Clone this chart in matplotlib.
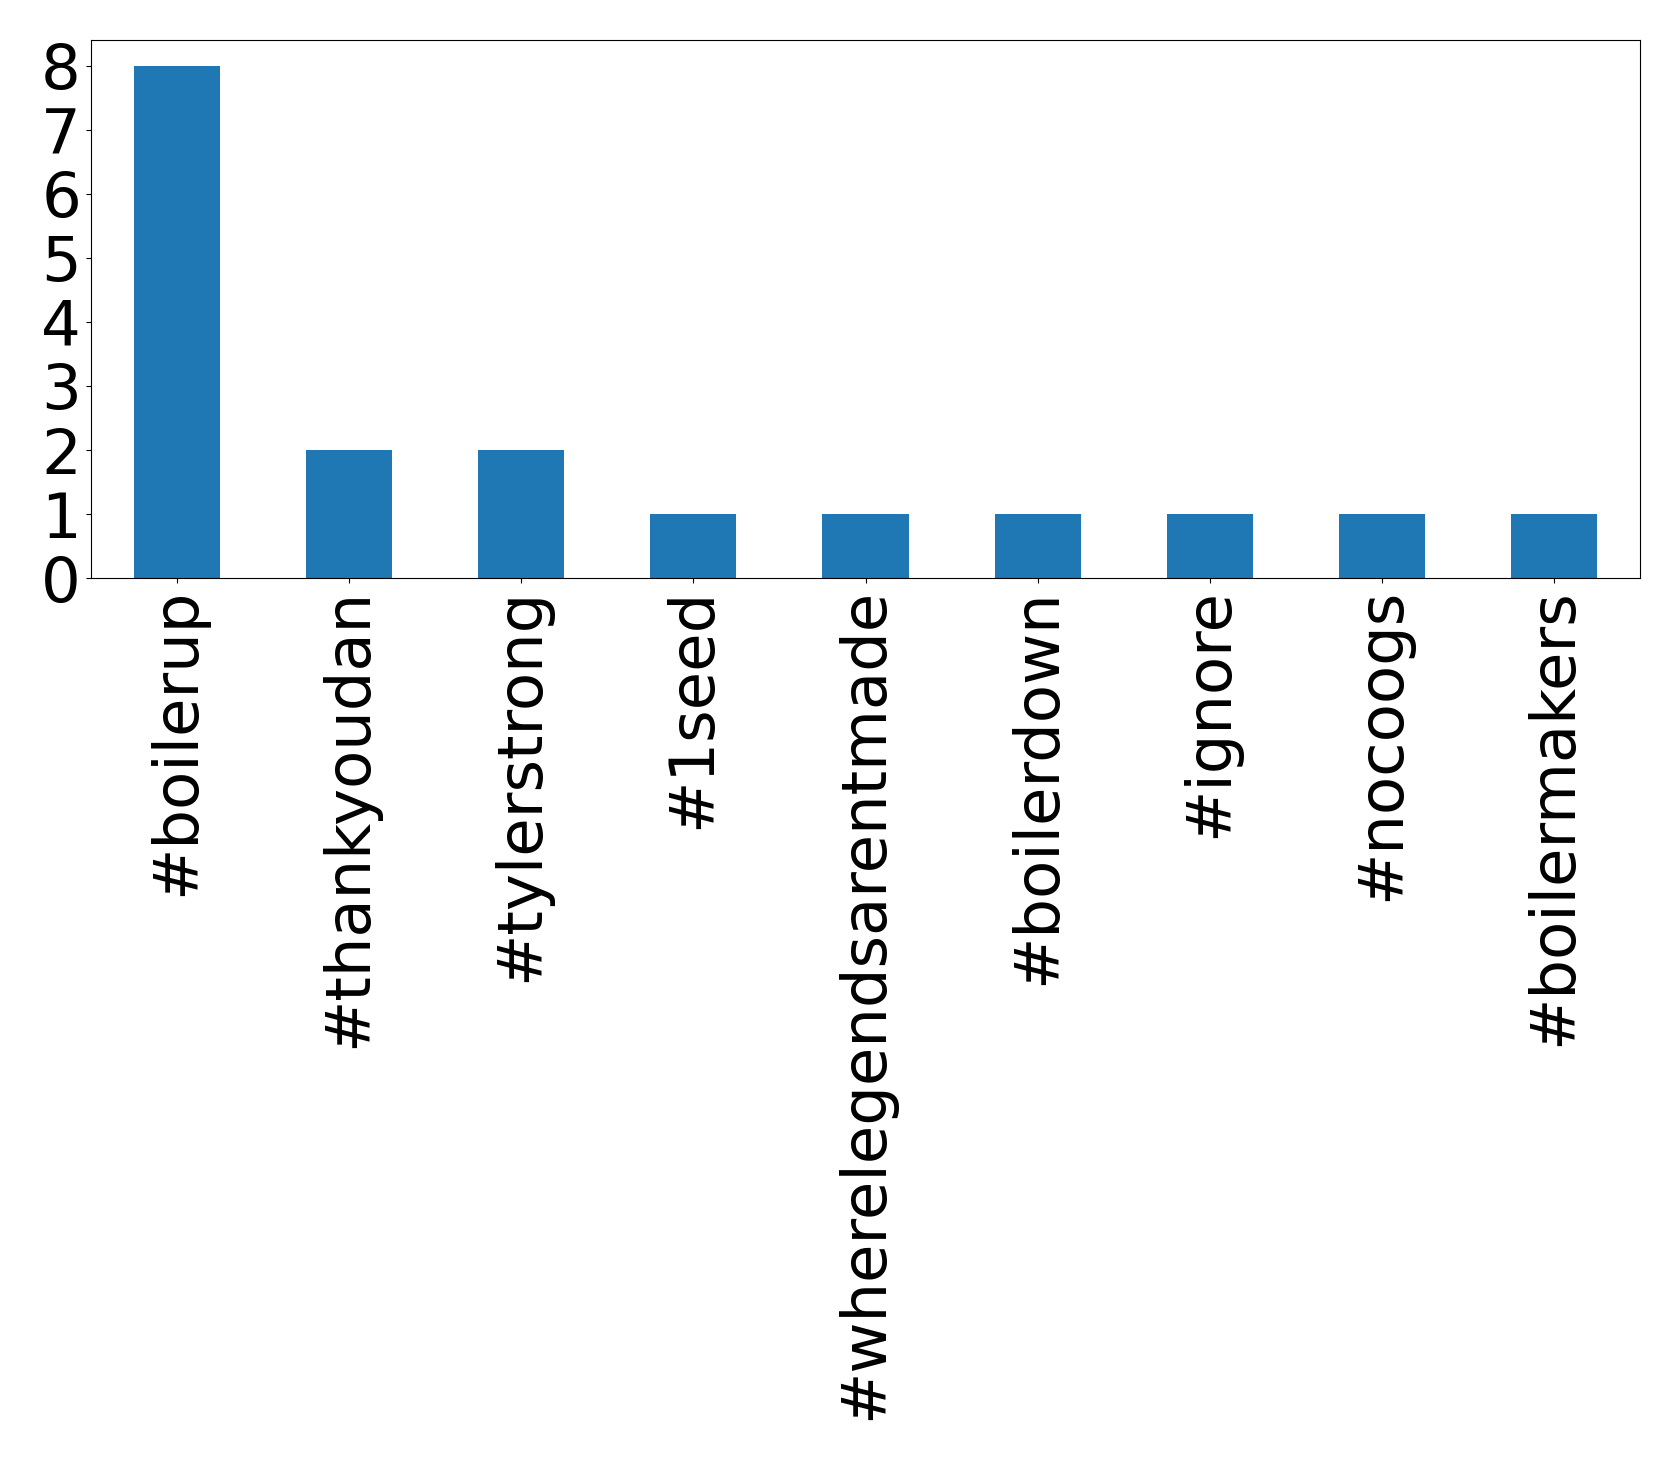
import matplotlib

matplotlib.use("Agg")
import matplotlib.pyplot as plt
import pandas as pd

hashtags = [
    "#boilerup",
    "#thankyoudan",
    "#tylerstrong",
    "#1seed",
    "#wherelegendsarentmade",
    "#boilerdown",
    "#ignore",
    "#nocoogs",
    "#boilermakers",
]
contagens = [8, 2, 2, 1, 1, 1, 1, 1, 1]

serie = pd.Series(contagens, index=hashtags)

fig = plt.figure(figsize=(16.79, 14.6), dpi=100)
ax = fig.add_axes([0.054, 0.604, 0.923, 0.3686])
serie.plot(kind="bar", ax=ax, color="#1f77b4")
ax.tick_params(axis="both", labelsize=45)
ax.set_yticks(range(0, 9))

fig.savefig("out.png", dpi=100)
